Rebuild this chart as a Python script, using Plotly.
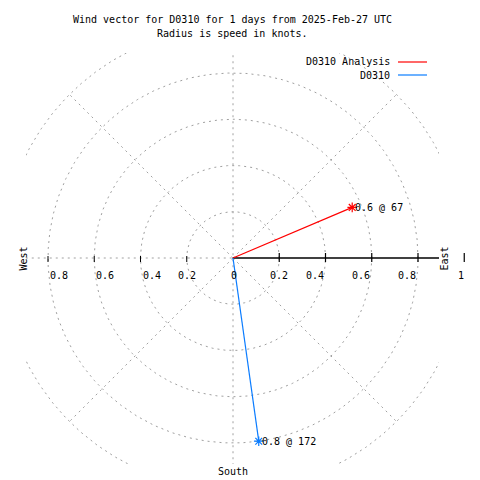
import numpy as np
import plotly.graph_objects as go

# ---- data ----
series_names = ["D0310 Analysis", "D0310"]
speeds_knots = [0.56, 0.80]
directions_deg = [67, 172]
series_colors = ["#ff0000", "#0a7cff"]

grid_radii = [0.2, 0.4, 0.6, 0.8, 1.0]
spoke_angles_deg = [45, 135, 225, 315]
right_tick_values = [0.2, 0.4, 0.6, 0.8, 1.0]
right_tick_labels = ["0.2", "0.4", "0.6", "0.8", "1"]
left_tick_values = [-0.8, -0.6, -0.4, -0.2]
left_tick_labels = ["0.8", "0.6", "0.4", "0.2"]

title_lines = ["Wind vector for D0310 for 1 days from 2025-Feb-27 UTC",
               "Radius is speed in knots."]

FONT = "DejaVu Sans Mono"
FS = 10
GRID = "#a0a0a0"
DASH = "2px,4px"

# plot-area geometry (pixels)
L, R, T, B = 26, 439, 53, 464
W, H = 480, 480
CX, CY = 233, 258
scale = 231.25
XMIN, XMAX = -(CX - L) / scale, (R - CX) / scale
YMIN, YMAX = -(B - CY) / scale, (CY - T) / scale

def px(x):
    return (x - L) / (R - L)
def py(y):
    return (B - y) / (B - T)
def dx2paper(v):
    return (v - XMIN) / (XMAX - XMIN)
def dy2paper(v):
    return (v - YMIN) / (YMAX - YMIN)

fig = go.Figure()

# grid circles
th = np.linspace(0, 2 * np.pi, 721)
cx, cy = [], []
for r in grid_radii:
    cx += list(r * np.cos(th)) + [None]
    cy += list(r * np.sin(th)) + [None]
fig.add_trace(go.Scatter(x=cx, y=cy, mode="lines", hoverinfo="skip",
                         line=dict(color=GRID, width=1, dash=DASH), showlegend=False))

# spokes (compass angles)
sx, sy = [], []
for a in spoke_angles_deg:
    rad = np.deg2rad(a)
    sx += [0, max(grid_radii) * np.sin(rad), None]
    sy += [0, max(grid_radii) * np.cos(rad), None]
sx += [0, 0, None, -max(grid_radii), 0]
sy += [-max(grid_radii), max(grid_radii), None, 0, 0]
fig.add_trace(go.Scatter(x=sx, y=sy, mode="lines", hoverinfo="skip",
                         line=dict(color=GRID, width=1, dash=DASH), showlegend=False))

# radial axis (solid black)
fig.add_trace(go.Scatter(x=[0, max(grid_radii)], y=[0, 0], mode="lines",
                         line=dict(color="black", width=1.3), showlegend=False))

annotations = []
shapes = []
lab_font = dict(family=FONT, size=FS, color="black")

def ann(**kw):
    d = dict(showarrow=False, yanchor="middle", font=lab_font)
    d.update(kw)
    annotations.append(d)

# right ticks + labels (paper coords so the r=1 tick outside the frame shows)
for v, t in zip(right_tick_values, right_tick_labels):
    xp = dx2paper(v)
    y0 = dy2paper(0)
    shapes.append(dict(type="line", xref="paper", yref="paper", x0=xp, x1=xp,
                       y0=y0 - 4 / (B - T), y1=y0 + 5 / (B - T),
                       line=dict(color="black", width=1.2)))
    ann(x=xp, y=y0, xref="paper", yref="paper", text=t,
        yshift=-17, xshift=2 if t == "1" else 0)
ann(x=dx2paper(0), y=dy2paper(0), xref="paper", yref="paper", text="0", yshift=-17, xshift=1)
for v, t in zip(left_tick_values, left_tick_labels):
    xp = dx2paper(v)
    y0 = dy2paper(0)
    shapes.append(dict(type="line", xref="paper", yref="paper", x0=xp, x1=xp,
                       y0=y0 - 4 / (B - T), y1=y0 + 2 / (B - T),
                       line=dict(color="black", width=1)))
    ann(x=xp, y=y0, xref="paper", yref="paper", text=t, yshift=-17)

# wind vectors
for name, s, d, c in zip(series_names, speeds_knots, directions_deg, series_colors):
    rad = np.deg2rad(d)
    ex, ey = s * np.sin(rad), s * np.cos(rad)
    fig.add_trace(go.Scatter(x=[0, ex], y=[0, ey], mode="lines", name=name,
                             line=dict(color=c, width=1.2), showlegend=False))
    fig.add_trace(go.Scatter(x=[ex], y=[ey], mode="markers", showlegend=False,
                             marker=dict(symbol="asterisk-open", size=8, color=c,
                                         line=dict(color=c, width=1.2))))
    ann(x=ex, y=ey, xref="x", yref="y", text=f"{s:.1f} @ {d}", xanchor="left", xshift=1)

# titles
ann(x=px(232), y=py(20), xref="paper", yref="paper", text=title_lines[0])
ann(x=px(232), y=py(33), xref="paper", yref="paper", text=title_lines[1])

# direction labels
ann(x=px(15), y=py(259), xref="paper", yref="paper", text="West", textangle=-90)
ann(x=px(451), y=py(259), xref="paper", yref="paper", text="East", textangle=-90)
ann(x=px(233), y=py(471), xref="paper", yref="paper", text="South")

# legend (text then sample line)
for i, (name, c) in enumerate(zip(series_names, series_colors)):
    yy = 62 + 13 * i
    ann(x=px(392), y=py(yy), xref="paper", yref="paper", text=name, xanchor="right")
    shapes.append(dict(type="line", xref="paper", yref="paper", x0=px(398), x1=px(427),
                       y0=py(yy), y1=py(yy), line=dict(color=c, width=1.2)))

fig.update_layout(
    width=W, height=H,
    margin=dict(l=L, r=W - R, t=T, b=H - B, pad=0),
    paper_bgcolor="white", plot_bgcolor="white",
    xaxis=dict(range=[XMIN, XMAX], visible=False, fixedrange=True),
    yaxis=dict(range=[YMIN, YMAX], visible=False, fixedrange=True),
    annotations=annotations, shapes=shapes, showlegend=False,
)

fig.write_html("out.html", config={"displayModeBar": False},
               post_script="document.body.style.margin='0px';")
